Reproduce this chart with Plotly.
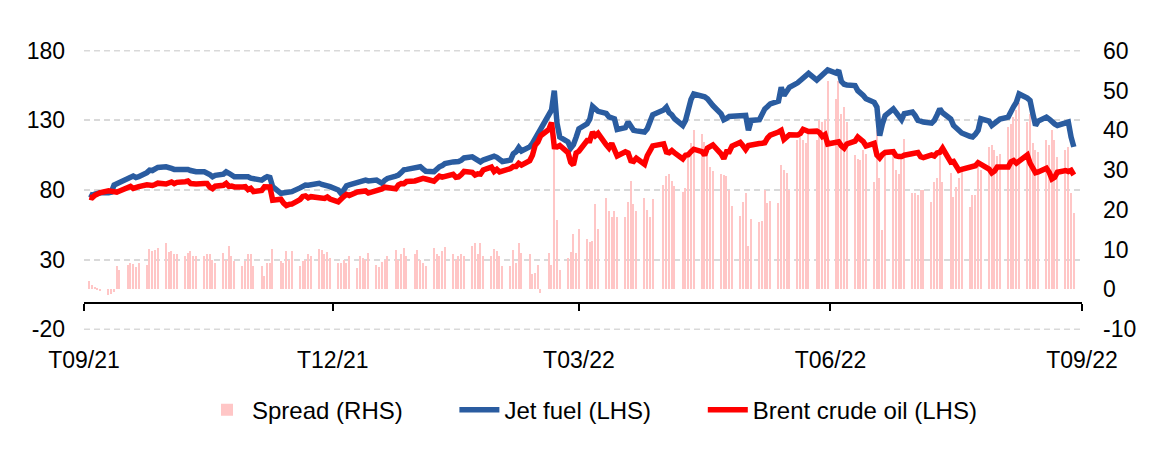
import pandas as pd
import plotly.graph_objects as go

# Business days from 20 Sep 2021 to 15 Sep 2022 (one row per week, Mon..Fri)
dates = pd.bdate_range("2021-09-20", "2022-09-15")

jet_fuel = [
    77.0, 76.0, 77.0, 77.5, 78.0,
    78.0, 78.5, 83.5, 84.5, 86.0,
    88.3, 89.5, 90.0, 89.0, 89.5,
    92.5, 94.3, 94.0, 95.0, 96.2,
    96.7, 96.5, 95.5, 94.8, 95.0,
    95.0, 94.8, 94.0, 93.5, 93.1,
    93.1, 92.5, 91.0, 89.5, 90.5,
    91.4, 93.1, 92.0, 90.5, 89.5,
    89.5, 89.5, 89.5, 88.5, 88.0,
    87.1, 88.5, 89.5, 89.0, 82.4,
    77.6, 78.0, 77.5, 78.0, 78.8,
    81.5, 82.9, 83.6, 83.5, 84.0,
    84.8, 84.0, 83.6, 83.5, 82.4,
    80.0, 77.6, 80.0, 83.0, 83.6,
    84.8, 85.5, 86.5, 87.1, 86.5,
    87.1, 85.5, 84.8, 87.0, 88.3,
    90.0, 90.7, 92.5, 94.5, 94.8,
    95.5, 96.0, 96.7, 95.0, 93.5,
    93.1, 95.5, 96.7, 97.5, 99.0,
    100.2, 100.0, 100.5, 101.4, 103.0,
    103.8, 102.6, 101.5, 100.2, 101.5,
    103.0, 104.3, 103.5, 102.0, 100.5,
    101.5, 106.0, 107.5, 110.5, 108.0,
    111.0, 113.5, 116.9, 120.0, 124.0,
    134.0, 137.5, 151.4, 128.0, 118.0,
    114.5, 110.0, 112.5, 118.0, 124.0,
    127.6, 131.0, 140.0, 138.0, 136.5,
    135.0, 132.5, 131.9, 131.2, 123.5,
    124.8, 128.8, 126.0, 122.9, 122.5,
    121.7, 124.0, 130.0, 134.0, None,
    137.5, 139.5, 135.5, 134.0, 131.2,
    126.4, 130.0, 139.5, 145.0, 149.0,
    147.9, 147.0, 145.5, 143.0, 140.7,
    134.8, 130.5, 131.5, 132.9, 133.0,
    132.9, 133.5, 133.6, 122.9, 130.0,
    130.5, 135.0, 138.3, 140.0, 141.9,
    143.8, 153.8, 147.9, 150.5, 153.8,
    157.0, 159.0, 159.8, 162.0, 163.8,
    159.0, 160.5, 162.1, 164.0, 166.2,
    164.0, 166.0, 158.0, 156.0, 155.5,
    155.0, 151.4, 150.0, 147.9, 145.5,
    143.0, 139.5, 119.0, 127.5, 133.5,
    138.3, 136.0, 133.5, 130.5, 134.8,
    136.0, 133.5, 130.0, 129.5, 128.8,
    128.0, 130.0, 134.0, 138.3, 135.5,
    131.0, 126.4, 124.5, 122.9, 121.0,
    118.6, 118.1, 120.0, 122.9, 131.2,
    129.5, 126.4, 128.0, 130.0, 131.0,
    132.4, 137.1, 140.0, 143.1, 149.0,
    146.0, 144.3, 135.0, 126.4, 129.5,
    132.4, 131.0, 128.8, 127.5, 126.4,
    128.8, 128.8, 118.1, 111.0,
]

brent = [
    74.9, 74.4, 76.2, 77.3, 78.1,
    79.5, 79.1, 78.6, 78.5, 79.3,
    81.3, 82.6, 81.1, 82.0, 82.4,
    83.7, 83.4, 83.2, 84.0, 84.9,
    84.3, 85.1, 85.8, 84.6, 85.5,
    86.0, 86.4, 84.6, 84.3, 84.4,
    84.7, 84.7, 82.0, 81.0, 82.7,
    83.4, 84.8, 82.6, 82.9, 82.2,
    82.1, 82.4, 80.3, 81.2, 78.9,
    79.7, 82.3, 82.3, 82.2, 72.7,
    73.4, 70.6, 68.9, 69.7, 69.9,
    73.1, 75.4, 75.8, 74.4, 75.2,
    74.4, 73.7, 73.9, 75.0, 73.5,
    71.5, 74.0, 75.3, 76.9, 76.1,
    78.6, 78.9, 79.2, 79.3, 77.8,
    79.0, 80.0, 80.8, 82.0, 81.8,
    80.9, 83.7, 84.7, 84.5, 86.1,
    86.5, 87.5, 88.4, 88.4, 87.9,
    86.3, 88.2, 90.0, 89.3, 90.0,
    91.2, 89.2, 89.5, 91.1, 93.3,
    92.7, 90.8, 91.6, 91.4, 94.4,
    96.5, 93.3, 94.8, 93.0, 93.5,
    95.4, 96.8, 96.8, 99.1, 97.9,
    101.0, 105.0, 112.1, 114.5, 119.0,
    123.5, 128.5, 111.1, 111.0, 112.0,
    106.9, 99.9, 98.0, 106.6, 107.9,
    115.6, 115.5, 121.6, 119.0, 120.7,
    112.5, 110.2, 113.5, 107.9, 104.4,
    107.5, 106.6, 101.1, 100.6, 102.8,
    98.5, 104.6, 108.8, 111.7, None,
    113.2, 107.3, 106.8, 108.3, 106.7,
    102.3, 105.0, 105.3, 107.6, 109.3,
    107.6, 105.0, 110.1, 111.1, 112.4,
    105.9, 102.5, 107.5, 107.5, 111.6,
    114.2, 111.9, 109.1, 112.0, 112.6,
    113.4, 113.6, 114.0, 117.4, 119.4,
    121.7, 122.8, 116.3, 117.6, 119.7,
    119.5, 120.6, 123.6, 123.1, 122.0,
    122.3, 121.2, 118.5, 119.8, 113.1,
    114.1, 114.7, 111.7, 110.1, 113.1,
    115.1, 118.0, 116.3, 114.8, 111.6,
    113.5, 105.0, 103.0, 105.5, 107.0,
    107.5, 104.5, 104.0, 104.0, 105.0,
    106.3, 107.4, 106.9, 103.9, 103.2,
    105.2, 104.4, 106.6, 107.1, 110.0,
    100.0, 100.5, 96.8, 94.1, 94.9,
    96.7, 96.3, 97.4, 99.6, 98.2,
    95.1, 92.3, 93.7, 96.6, 96.7,
    96.5, 100.2, 101.2, 99.3, 101.0,
    105.1, 99.3, 96.5, 92.4, 93.0,
    95.7, 92.8, 88.0, 89.2, 92.8,
    94.0, 93.2, 94.1, 90.8,
]

spread = [
    2.0, 1.2, 0.6, 0.3, -0.3,
    -1.4, -1.2, -0.6, 5.8, 5.0,
    6.2, 6.7, 6.3, 5.7, 6.7,
    6.2, 10.2, 9.6, 10.0, 10.4,
    11.7, 9.3, 9.6, 9.0, 8.8,
    8.3, 9.2, 9.6, 8.3, 8.5,
    8.5, 8.8, 8.8, 7.5, 6.7,
    9.2, 7.5, 10.8, 8.3, 7.1,
    5.8, 7.1, 8.8, 9.0, 5.8,
    5.8, 3.3, 6.7, 6.7, 10.2,
    7.1, 6.7, 9.6, 7.5, 9.6,
    5.8, 7.1, 7.3, 9.0, 8.3,
    10.2, 10.0, 9.0, 9.3, 7.9,
    6.7, 6.7, 7.5, 6.7, 8.5,
    5.4, 8.3, 7.9, 7.5, 9.2,
    6.2, 5.7, 6.8, 7.5, 8.3,
    10.0, 7.5, 9.0, 10.4, 8.3,
    9.0, 9.8, 7.5, 6.7, 5.8,
    10.4, 8.8, 8.3, 9.6, 10.7,
    8.8, 7.5, 8.3, 8.8, 8.5,
    11.0, 11.7, 9.0, 11.7, 8.3,
    8.3, 10.2, 9.6, 8.3, 5.8,
    5.8, 9.8, 6.7, 11.7, 9.2,
    8.9, 3.8, 4.2, 6.2, -0.8,
    9.2, 6.2, 40.5, 17.5, 5.0,
    7.9, 9.4, 14.0, 9.2, 15.2,
    12.7, 11.8, 12.1, 21.5, 15.3,
    22.9, 19.8, 18.3, 19.6, 18.2,
    18.2, 22.0, 27.3, 21.5, 19.6,
    22.9, 20.0, 18.3, 22.7, None,
    26.3, 28.5, 29.0, 27.3, 26.0,
    24.6, 25.4, 33.3, 36.7, 40.2,
    39.0, 37.0, 34.6, 30.8, 29.8,
    29.0, 28.8, 28.5, 25.0, 21.0,
    18.5, 22.0, 24.3, 11.0, 17.7,
    17.0, 17.3, 25.0, 21.8, 22.3,
    21.8, 31.3, 30.0, 29.2, 25.0,
    37.5, 38.3, 37.5, 36.7, 40.0,
    37.5, 42.5, 42.0, 42.5, 52.5,
    48.0, 52.5, 44.2, 46.0, 42.0,
    33.8, 32.9, 32.5, 35.0, 34.0,
    27.0, 40.0, 28.0, 15.0, 35.0,
    35.4, 30.0, 29.0, 33.3, 37.9,
    24.2, 24.2, 23.8, 25.0, 25.0,
    22.0, 27.0, 28.0, 34.2, 27.0,
    29.2, 23.3, 25.8, 28.0, 29.6,
    20.8, 23.8, 23.8, 31.7, 30.0,
    35.8, 36.3, 35.0, 33.5, 34.0,
    40.8, 41.7, 43.3, 45.0, 47.0,
    42.0, 44.0, 36.7, 35.0, 34.6,
    37.5, 36.3, 40.0, 37.5, 33.3,
    35.0, 35.8, 24.2, 19.2,
]

assert len(jet_fuel) == len(brent) == len(spread) == len(dates)

tick_vals = ["2021-09-18", "2021-12-18", "2022-03-18", "2022-06-18", "2022-09-18"]
tick_text = ["T09/21", "T12/21", "T03/22", "T06/22", "T09/22"]
x_range = ["2021-09-18", "2022-09-18"]
lhs_ticks = [-20, 30, 80, 130, 180]
lhs_text = ["-20", "30", "80", "130", "180"]
rhs_ticks = [-10, 0, 10, 20, 30, 40, 50, 60]
rhs_text = ["-10", "0", "10", "20", "30", "40", "50", "60"]
series_names = ["Spread (RHS)", "Jet fuel (LHS)", "Brent crude oil (LHS)"]

FONT = "Liberation Sans, Arial, Helvetica, sans-serif"
DAY_MS = 86400000
TICK_SIZE = 23
LEGEND_SIZE = 24
GAP = "\u00a0" * 7   # spacing after a legend entry's text
GRID_COLOR = "#D9D9D9"
GRID_DASH = "6px,4px"

fig = go.Figure()
fig.add_trace(go.Bar(
    x=dates, y=spread, name=series_names[0] + GAP,
    marker=dict(color="#FFC6C6", line=dict(width=0)),
    width=0.5 * DAY_MS, xaxis="x", yaxis="y",
))
fig.add_trace(go.Scatter(
    x=dates, y=jet_fuel, name=series_names[1] + GAP, mode="lines",
    line=dict(color="#2A5CA0", width=5.5), connectgaps=True,
    xaxis="x2", yaxis="y2",
))
fig.add_trace(go.Scatter(
    x=dates, y=brent, name=series_names[2], mode="lines",
    line=dict(color="#FF0000", width=5.5), connectgaps=True,
    xaxis="x2", yaxis="y2",
))

axis_pos = (330 - 303) / 280.0
lhs_pad = 0.6
rhs_pad = lhs_pad * 70 / 200

# dashed gridlines at the two range ends (Plotly hides grid lines on the frame edge)
edge_grid = [
    dict(type="line", xref="paper", x0=0, x1=1, yref="y2", y0=v, y1=v,
         line=dict(color=GRID_COLOR, width=1.5, dash=GRID_DASH), layer="below")
    for v in (lhs_ticks[0], lhs_ticks[-1])
]

fig.update_layout(
    width=1166, height=456,
    margin=dict(l=84, r=84, t=50, b=126, pad=0),
    paper_bgcolor="white", plot_bgcolor="white",
    font=dict(family=FONT, size=TICK_SIZE, color="black"),
    bargap=0,
    showlegend=True,
    shapes=edge_grid,
    legend=dict(
        orientation="h", x=(202 - 84) / 998, xanchor="left",
        y=-0.286, yanchor="middle",
        font=dict(family=FONT, size=LEGEND_SIZE, color="black"),
        bgcolor="rgba(0,0,0,0)", itemwidth=40,
    ),
    xaxis=dict(
        type="date", range=x_range, tickvals=tick_vals, ticktext=tick_text,
        showgrid=False, zeroline=False, showline=False, ticks="",
        ticklabelstandoff=14, automargin=False,
        tickfont=dict(family=FONT, size=TICK_SIZE, color="black"),
    ),
    xaxis2=dict(
        type="date", overlaying="x", matches="x", anchor="free", position=axis_pos,
        side="bottom", range=x_range, tickvals=tick_vals,
        showticklabels=False, showgrid=False, zeroline=False,
        showline=True, linecolor="black", linewidth=1.5,
        ticks="outside", ticklen=7, tickwidth=1.5, tickcolor="black",
        automargin=False,
    ),
    yaxis=dict(
        side="right", range=[-10 - rhs_pad, 60 + rhs_pad],
        tickvals=rhs_ticks, ticktext=rhs_text,
        showgrid=False, zeroline=False, showline=False, ticks="",
        ticklabelstandoff=20, automargin=False,
        tickfont=dict(family=FONT, size=TICK_SIZE, color="black"),
    ),
    yaxis2=dict(
        overlaying="y", side="left", range=[-20 - lhs_pad, 180 + lhs_pad],
        tickvals=lhs_ticks, ticktext=lhs_text,
        showgrid=True, gridcolor=GRID_COLOR, gridwidth=1.5, griddash=GRID_DASH,
        zeroline=False, showline=False, ticks="",
        ticklabelstandoff=18, automargin=False,
        tickfont=dict(family=FONT, size=TICK_SIZE, color="black"),
    ),
)

fig.write_html("out.html")
